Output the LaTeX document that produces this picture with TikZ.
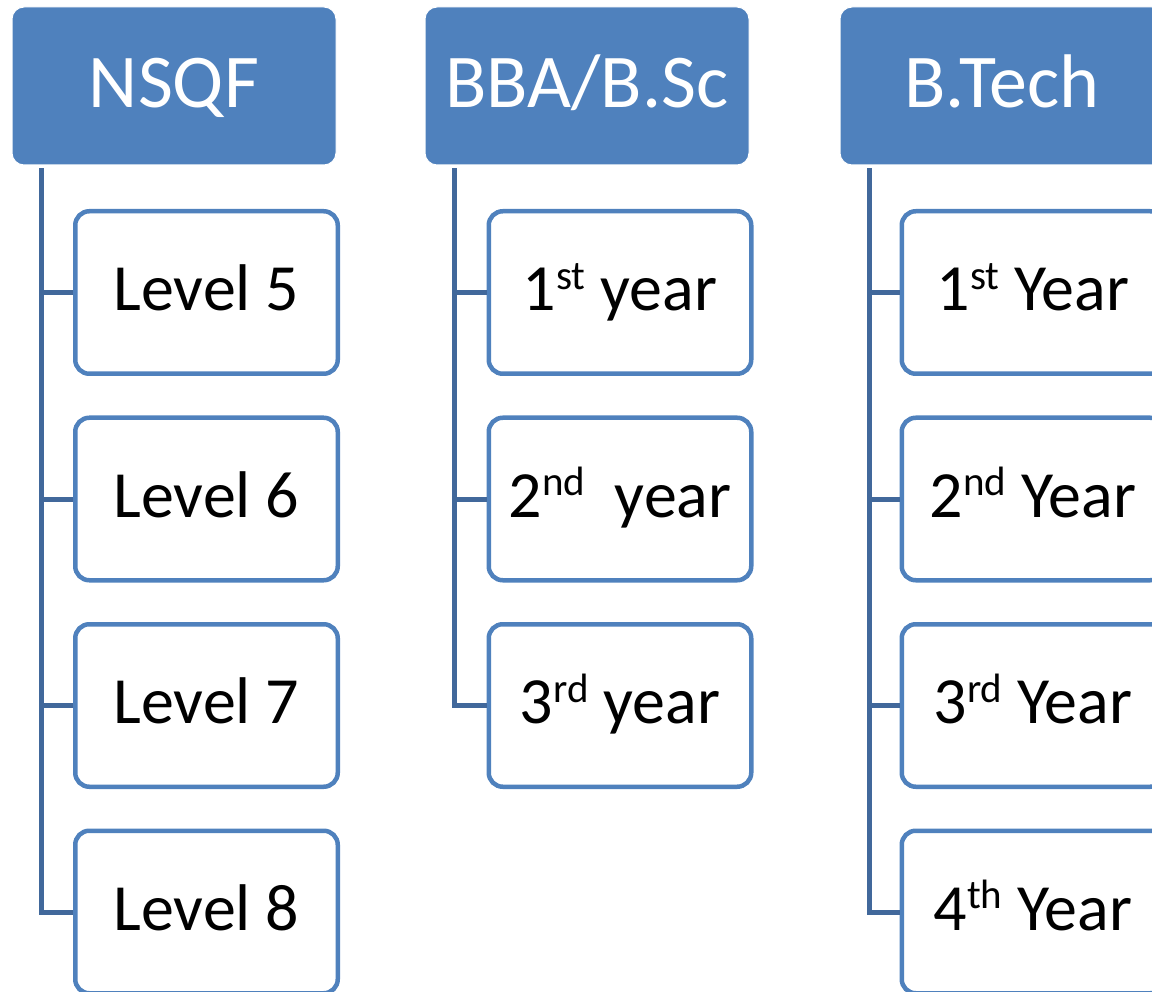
\documentclass[tikz,border=0pt]{standalone}
\usepackage{fontspec}
\setmainfont{Carlito}
\definecolor{hdfill}{RGB}{79,129,189}
\definecolor{spine}{RGB}{65,104,155}
% ordinal suffix, set small and raised to the cap line
\newcommand{\ordsfx}[1]{\raisebox{0.32em}{\fontsize{41}{41}\selectfont #1}}
\begin{document}
\begin{tikzpicture}[x=1pt,y=-1pt,
  head/.style={rectangle, rounded corners=12pt, fill=hdfill, draw=white, line width=1pt,
    minimum width=324pt, minimum height=158pt, text=white,
    font=\fontsize{76}{82}\selectfont, text height=48pt, text depth=5pt, inner sep=0pt},
  item/.style={rectangle, rounded corners=14pt, fill=white, draw=hdfill, line width=4.5pt,
    minimum width=262.5pt, minimum height=162.5pt,
    font=\fontsize{66}{72}\selectfont, text height=42pt, text depth=6pt, inner sep=0pt},
  link/.style={draw=spine, line width=5pt}]
\useasboundingbox (0,0) rectangle (1152,992);
\clip (0,0) rectangle (1152,992);

% column headers
\node[head] (hA) at (174,86)  {NSQF};
\node[head] (hB) at (587,86)  {BBA/B.Sc};
\node[head] (hC) at (1002,86) {B.Tech};

% NSQF levels
\node[item] (a1) at (206.5,292.5) {Level 5};
\node[item] (a2) at (206.5,499)   {Level 6};
\node[item] (a3) at (206.5,705.5) {Level 7};
\node[item] (a4) at (206.5,912)   {Level 8};

% BBA/B.Sc years
\node[item] (b1) at (620,292.5) {1\ordsfx{st} year};
\node[item] (b2) at (620,499)   {2\ordsfx{nd}\ \ year};
\node[item] (b3) at (620,705.5) {3\ordsfx{rd} year};

% B.Tech years
\node[item] (c1) at (1033,292.5) {1\ordsfx{st} Year};
\node[item] (c2) at (1033,499)   {2\ordsfx{nd} Year};
\node[item] (c3) at (1033,705.5) {3\ordsfx{rd} Year};
\node[item] (c4) at (1033,912)   {4\ordsfx{th} Year};

% spines
\coordinate (sA) at ([xshift=30pt,yshift=-3pt]hA.south west);
\coordinate (sB) at ([xshift=30pt,yshift=-3pt]hB.south west);
\coordinate (sC) at ([xshift=30pt,yshift=-3pt]hC.south west);

\draw[link] (sA) |- (a4.west);
\draw[link] (a1.west) -- (a1.west -| sA);
\draw[link] (a2.west) -- (a2.west -| sA);
\draw[link] (a3.west) -- (a3.west -| sA);

\draw[link] (sB) |- (b3.west);
\draw[link] (b1.west) -- (b1.west -| sB);
\draw[link] (b2.west) -- (b2.west -| sB);

\draw[link] (sC) |- (c4.west);
\draw[link] (c1.west) -- (c1.west -| sC);
\draw[link] (c2.west) -- (c2.west -| sC);
\draw[link] (c3.west) -- (c3.west -| sC);
\end{tikzpicture}
\end{document}
